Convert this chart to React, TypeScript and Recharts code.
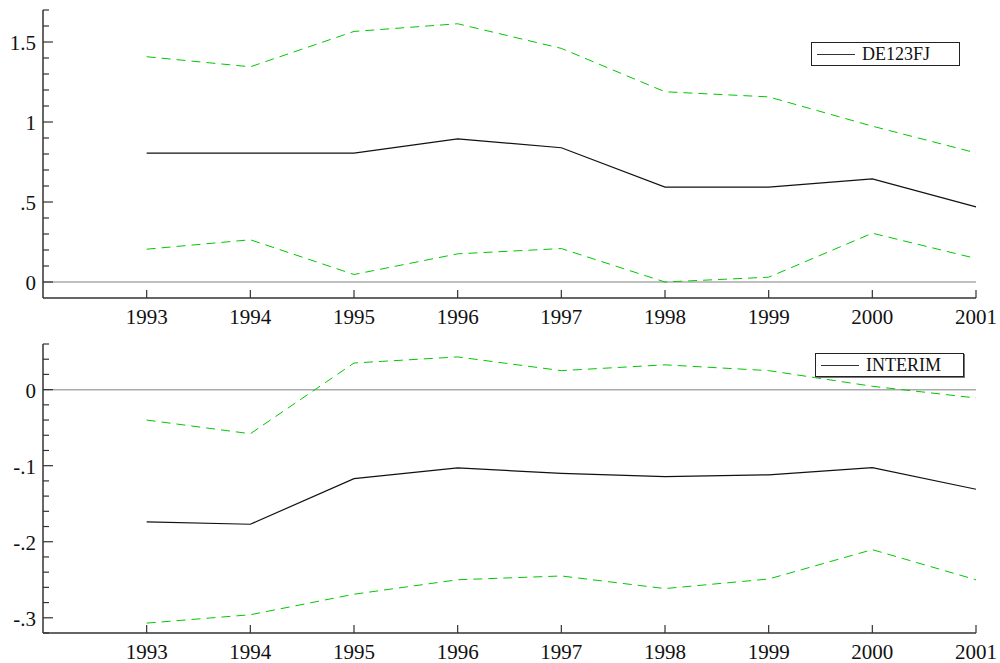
import React from 'react';
import { LineChart, Line, XAxis, YAxis, ReferenceLine } from 'recharts';

const years = [1993, 1994, 1995, 1996, 1997, 1998, 1999, 2000, 2001];

const deCentral = [0.805, 0.805, 0.805, 0.895, 0.839, 0.593, 0.593, 0.645, 0.47];
const deUpper = [1.408, 1.345, 1.566, 1.614, 1.46, 1.189, 1.157, 0.974, 0.807];
const deLower = [0.205, 0.264, 0.047, 0.176, 0.209, 0.0, 0.03, 0.305, 0.147];

const inCentral = [-0.174, -0.177, -0.117, -0.103, -0.11, -0.1145, -0.112, -0.1026, -0.131];
const inUpper = [-0.04, -0.058, 0.035, 0.043, 0.025, 0.0326, 0.025, 0.0044, -0.011];
const inLower = [-0.307, -0.296, -0.269, -0.25, -0.245, -0.2616, -0.249, -0.2104, -0.25];

const topTicks = [0, 0.1, 0.2, 0.3, 0.4, 0.5, 0.6, 0.7, 0.8, 0.9, 1, 1.1, 1.2, 1.3, 1.4, 1.5, 1.6, 1.7];
const topLabels: Record<string, string> = { '0': '0', '50': '.5', '100': '1', '150': '1.5' };

const bottomTicks = [
  -0.32, -0.3, -0.28, -0.26, -0.24, -0.22, -0.2, -0.18, -0.16, -0.14, -0.12, -0.1,
  -0.08, -0.06, -0.04, -0.02, 0, 0.02, 0.04, 0.06,
];
const bottomLabels: Record<string, string> = { '-30': '-.3', '-20': '-.2', '-10': '-.1', '0': '0' };

const topData = years.map((y, i) => ({ year: y, central: deCentral[i], upper: deUpper[i], lower: deLower[i] }));
const bottomData = years.map((y, i) => ({ year: y, central: inCentral[i], upper: inUpper[i], lower: inLower[i] }));

const FONT = 'Liberation Serif, Times New Roman, serif';
const AXIS = '#333';
const GREEN = '#00c800';

const makeYTick = (labels: Record<string, string>) => (props: any) => {
  const { x, y, payload } = props;
  const key = String(Math.round(payload.value * 100));
  const label = labels[key];
  const len = label !== undefined ? 10 : 6;
  return (
    <g>
      <line x1={x} y1={y} x2={x + len} y2={y} stroke={AXIS} strokeWidth={1.2} />
      {label !== undefined && (
        <text x={x - 7} y={y + 8} textAnchor="end" style={{ fontFamily: FONT, fontSize: 21 }} fill="#111">
          {label}
        </text>
      )}
    </g>
  );
};

const XTick = (props: any) => {
  const { x, y, payload } = props;
  return (
    <g>
      <line x1={x} y1={y} x2={x} y2={y - 8} stroke={AXIS} strokeWidth={1.2} />
      <text x={x} y={y + 26} textAnchor="middle" style={{ fontFamily: FONT, fontSize: 21 }} fill="#111">
        {payload.value}
      </text>
    </g>
  );
};

const LegendBox: React.FC<{ name: string; left: number; top: number; shadow: boolean }> = ({ name, left, top, shadow }) => (
  <div
    style={{
      position: 'absolute',
      left,
      top,
      width: 147,
      height: 22,
      border: '1px solid #222',
      boxShadow: shadow ? '1px 1px 0 #777' : 'none',
      background: '#fff',
      display: 'flex',
      alignItems: 'center',
      fontFamily: FONT,
      fontSize: 18,
      color: '#111',
      boxSizing: 'content-box',
    }}
  >
    <svg width={50} height={22}>
      <line x1={5} y1={11.5} x2={43} y2={11.5} stroke="#333" strokeWidth={1} />
    </svg>
    <span>{name}</span>
  </div>
);

interface PanelProps {
  data: any[];
  domain: [number, number];
  ticks: number[];
  labels: Record<string, string>;
  height: number;
}

const Panel: React.FC<PanelProps> = ({ data, domain, ticks, labels, height }) => (
  <LineChart width={1000} height={height} data={data} margin={{ top: 10, right: 24, bottom: 0, left: 0 }}>
    <XAxis
      dataKey="year"
      type="number"
      domain={[1992, 2001]}
      ticks={years}
      interval={0}
      height={36}
      tickSize={0}
      tickMargin={0}
      tickLine={false}
      tick={XTick}
      axisLine={{ stroke: AXIS, strokeWidth: 1.5 }}
    />
    <YAxis
      type="number"
      domain={domain}
      ticks={ticks}
      interval={0}
      width={43}
      tickSize={0}
      tickMargin={0}
      tickLine={false}
      tick={makeYTick(labels)}
      axisLine={{ stroke: AXIS, strokeWidth: 1.5 }}
    />
    <ReferenceLine y={0} stroke="#aaa" strokeWidth={1.5} />
    <Line dataKey="upper" stroke={GREEN} strokeWidth={1} strokeDasharray="9 6" dot={false} isAnimationActive={false} />
    <Line dataKey="central" stroke="#111" strokeWidth={1.2} dot={false} isAnimationActive={false} />
    <Line dataKey="lower" stroke={GREEN} strokeWidth={1} strokeDasharray="9 6" dot={false} isAnimationActive={false} />
  </LineChart>
);

const App: React.FC = () => {
  return (
    <div style={{ position: 'absolute', left: 0, top: 0, width: 1000, height: 663, background: '#fff', overflow: 'hidden' }}>
      <div style={{ position: 'absolute', left: 0, top: 0 }}>
        <Panel data={topData} domain={[-0.1, 1.7]} ticks={topTicks} labels={topLabels} height={334} />
      </div>
      <div style={{ position: 'absolute', left: 0, top: 334 }}>
        <Panel data={bottomData} domain={[-0.32, 0.06]} ticks={bottomTicks} labels={bottomLabels} height={335} />
      </div>
      <LegendBox name="DE123FJ" left={811} top={42} shadow={false} />
      <LegendBox name="INTERIM" left={815} top={353} shadow={true} />
    </div>
  );
};

export default App;
